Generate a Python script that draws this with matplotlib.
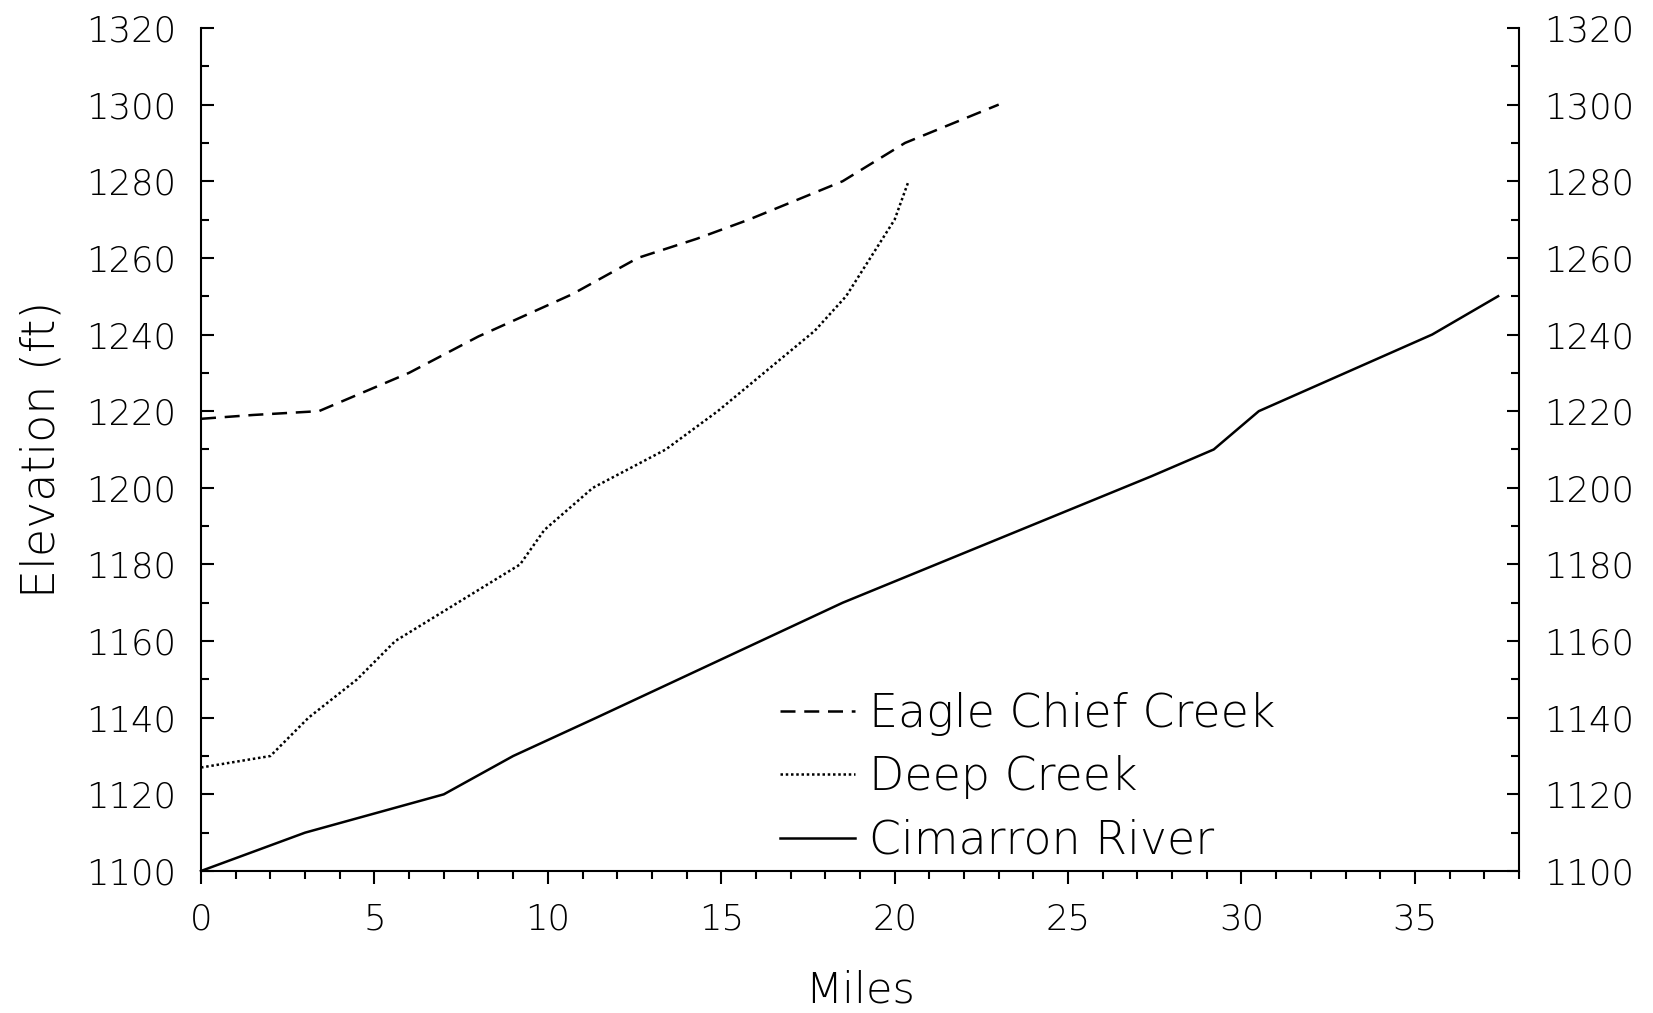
import numpy as np
import matplotlib.pyplot as plt
from matplotlib.ticker import MultipleLocator

# river / creek profiles (miles, elevation ft)
eagle_mi = [0, 1.5, 3.4, 6.0, 8.0, 10.7, 12.6, 14.3, 15.8, 18.5, 20.3, 23.0]
eagle_ft = [1218, 1219, 1220, 1230, 1239.5, 1250.5, 1260, 1265, 1270, 1280, 1290, 1300]

deep_mi = [0, 2.0, 3.1, 4.5, 5.6, 9.2, 9.9, 11.3, 13.4, 14.9, 17.7, 18.6, 20.0, 20.4]
deep_ft = [1127, 1130, 1140, 1150, 1160, 1180, 1189, 1200, 1210, 1220, 1241, 1250, 1270, 1280]

cim_mi = [0, 3.0, 7.0, 9.0, 11.4, 18.5, 27.4, 29.2, 30.5, 35.5, 37.4]
cim_ft = [1100, 1110, 1120, 1130, 1140, 1170, 1203, 1210, 1220, 1240, 1250]

plt.rcParams['font.family'] = ['DejaVu Sans']
plt.rcParams['font.weight'] = 'light'
plt.rcParams['axes.labelweight'] = 'light'

fig = plt.figure(figsize=(16.53, 10.13), dpi=100)
ax = fig.add_axes([0.1216, 0.1402, 0.7973, 0.8322])

ax.plot(eagle_mi, eagle_ft, color='black', lw=1.8, linestyle=(0, (6, 3.5)), label='Eagle Chief Creek')
ax.plot(deep_mi, deep_ft, color='black', lw=1.8, linestyle=(0, (1, 1.1)), label='Deep Creek')
ax.plot(cim_mi, cim_ft, color='black', lw=1.8, label='Cimarron River', clip_on=False)

ax.set_xlim(0, 38)
ax.set_ylim(1100, 1320)
ax.xaxis.set_major_locator(MultipleLocator(5))
ax.xaxis.set_minor_locator(MultipleLocator(1))
ax.yaxis.set_major_locator(MultipleLocator(20))
ax.yaxis.set_minor_locator(MultipleLocator(10))

ax.spines['top'].set_visible(False)
for s in ['left', 'right', 'bottom']:
    ax.spines[s].set_linewidth(1.5)

ax.tick_params(axis='y', which='both', direction='in', left=True, right=True,
               labelleft=True, labelright=True, width=1.5, labelsize=25.5, pad=18)
ax.tick_params(axis='y', which='major', length=9)
ax.tick_params(axis='y', which='minor', length=5.5)
ax.tick_params(axis='x', which='both', direction='out', width=1.5, labelsize=25.5, pad=13)
ax.tick_params(axis='x', which='major', length=9.5)
ax.tick_params(axis='x', which='minor', length=5.5)

ax.set_xlabel('Miles', fontsize=31, labelpad=24)
ax.set_ylabel('Elevation (ft)', fontsize=33, labelpad=16)

ax.legend(loc='center left', bbox_to_anchor=(0.439, 0.111), frameon=False, fontsize=33,
          handlelength=1.65, handletextpad=0.3, labelspacing=0.42, borderpad=0, borderaxespad=0)

plt.savefig('out.png', dpi=100)
